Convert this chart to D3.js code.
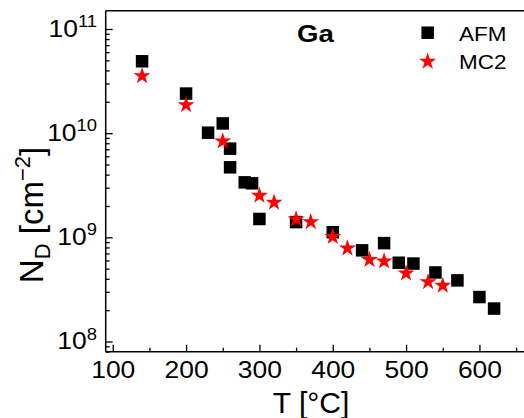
<!DOCTYPE html>
<html><head><meta charset="utf-8">
<script src="https://cdn.jsdelivr.net/npm/d3@7"></script>
<style>html,body{margin:0;padding:0;background:#fff;}svg{display:block;}</style>
</head><body>
<svg id="chart" width="524" height="418"></svg>
<script>
// Data
const afmT = [140, 200, 230, 250, 260, 260, 280, 290, 300, 350, 400, 440, 470, 490, 510, 540, 570, 600, 620];
const afmN = [4.9e10, 2.4e10, 1.01e10, 1.24e10, 7.1e9, 4.7e9, 3.37e9, 3.3e9, 1.5e9, 1.4e9, 1.12e9, 7.5e8, 8.8e8, 5.7e8, 5.6e8, 4.6e8, 3.86e8, 2.67e8, 2.07e8];
const mc2T = [140, 200, 250, 300, 320, 350, 370, 400, 420, 450, 470, 500, 530, 550];
const mc2N = [3.6e10, 1.9e10, 8.5e9, 2.56e9, 2.2e9, 1.52e9, 1.43e9, 1.03e9, 8.0e8, 6.2e8, 6.0e8, 4.6e8, 3.8e8, 3.5e8];
const xTicks = [100, 200, 300, 400, 500, 600];
const xMinorTicks = [150, 250, 350, 450, 550, 650];
const yTickExps = [8, 9, 10, 11];
const seriesNames = ["AFM", "MC2"];
const panelLabel = "Ga";

const FONT = "'Liberation Sans', Arial, sans-serif";
const SX = 1.15; // horizontal widening of label glyphs
const svg = d3.select("#chart");
const L = 105.7, R = 525, T = 10.7, B = 351.7;

const x = d3.scaleLinear().domain([90, 662]).range([105.4, 524.9]);
const y = d3.scaleLog().domain([Math.pow(10, 7.902), Math.pow(10, 11.1757)]).range([B, T]);

// frame
const frame = svg.append("g").attr("stroke", "#000").attr("stroke-width", 1.5).attr("fill", "none");
frame.append("line").attr("x1", L).attr("x2", L).attr("y1", T).attr("y2", B);
frame.append("line").attr("x1", L).attr("x2", R).attr("y1", B).attr("y2", B);
frame.append("line").attr("x1", L).attr("x2", R).attr("y1", T).attr("y2", T);

// x ticks (inward)
const xAxis = d3.axisBottom(x).tickValues(xTicks).tickSize(-7).tickSizeOuter(0).tickPadding(10).tickFormat(d3.format("d"));
const gx = svg.append("g").attr("transform", `translate(0,${B})`).call(xAxis);
gx.select(".domain").remove();
gx.selectAll(".tick line").attr("stroke-width", 1.3);
gx.selectAll(".tick text").attr("font-family", FONT).attr("font-size", 23).attr("fill", "#000")
  .attr("dy", "0.71em").attr("transform", `scale(${SX},1)`);
const gxm = svg.append("g").attr("transform", `translate(0,${B})`)
  .call(d3.axisBottom(x).tickValues(xMinorTicks).tickSize(-4).tickSizeOuter(0).tickFormat(""));
gxm.select(".domain").remove();
gxm.selectAll(".tick line").attr("stroke-width", 1.3);

// y ticks (inward)
const yMajors = yTickExps.map(e => Math.pow(10, e));
const gy = svg.append("g").attr("transform", `translate(${L},0)`)
  .call(d3.axisLeft(y).tickValues(yMajors).tickSize(-7).tickSizeOuter(0).tickFormat(""));
gy.select(".domain").remove();
gy.selectAll(".tick line").attr("stroke-width", 1.3);
const yMinors = [];
[7, 8, 9, 10, 11].forEach(e => { for (let m = 2; m <= 9; m++) { const v = m * Math.pow(10, e); if (v >= y.domain()[0] && v <= y.domain()[1]) yMinors.push(v); } });
const gym = svg.append("g").attr("transform", `translate(${L},0)`)
  .call(d3.axisLeft(y).tickValues(yMinors).tickSize(-4).tickSizeOuter(0).tickFormat(""));
gym.select(".domain").remove();
gym.selectAll(".tick line").attr("stroke-width", 1.3);

// y tick labels with superscripts
yTickExps.forEach(e => {
  const t = svg.append("g").attr("transform", `translate(97,${y(Math.pow(10, e)) + 8})`)
    .append("text").attr("font-family", FONT).attr("fill", "#000")
    .attr("text-anchor", "end").attr("transform", `scale(${SX},1)`);
  t.append("tspan").attr("font-size", 23).text("10");
  t.append("tspan").attr("font-size", 16).attr("dy", -10).text(String(e));
});

// axis titles
svg.append("text").attr("font-family", FONT).attr("font-size", 30).attr("text-anchor", "middle")
  .attr("x", 311).attr("y", 413).text("T [°C]");
const yt = svg.append("text").attr("font-family", FONT).attr("font-size", 33).attr("text-anchor", "middle")
  .attr("transform", `translate(43,215) rotate(-90)`);
yt.append("tspan").text("N");
yt.append("tspan").attr("font-size", 22).attr("dy", 7).text("D");
yt.append("tspan").attr("dy", -7).text(" [cm");
yt.append("tspan").attr("font-size", 22).attr("dy", -13).text("−2");
yt.append("tspan").attr("dy", 13).text("]");

// data marks
const sq = 12.5;
svg.append("g").selectAll("rect").data(afmT.map((t, i) => [t, afmN[i]])).join("rect")
  .attr("x", d => x(d[0]) - sq / 2).attr("y", d => y(d[1]) - sq / 2)
  .attr("width", sq).attr("height", sq).attr("fill", "#000");
const star = d3.symbol().type(d3.symbolStar).size(90);
svg.append("g").selectAll("path").data(mc2T.map((t, i) => [t, mc2N[i]])).join("path")
  .attr("d", star).attr("transform", d => `translate(${x(d[0])},${y(d[1]) + 0.8})`).attr("fill", "#ff0000");

// panel label
svg.append("g").attr("transform", "translate(297,41.7)")
  .append("text").attr("font-family", FONT).attr("font-size", 24).attr("font-weight", "bold")
  .attr("transform", "scale(1.15,1)").text(panelLabel);

// legend
svg.append("rect").attr("x", 427.7 - sq / 2).attr("y", 32.7 - sq / 2).attr("width", sq).attr("height", sq).attr("fill", "#000");
svg.append("path").attr("d", star).attr("transform", `translate(427.7,${61.5})`).attr("fill", "#ff0000");
seriesNames.forEach((n, i) => {
  svg.append("g").attr("transform", `translate(459,${40.5 + 28 * i})`)
    .append("text").attr("font-family", FONT).attr("font-size", 21)
    .attr("transform", "scale(1.07,1)").text(n);
});
</script>
</body></html>
